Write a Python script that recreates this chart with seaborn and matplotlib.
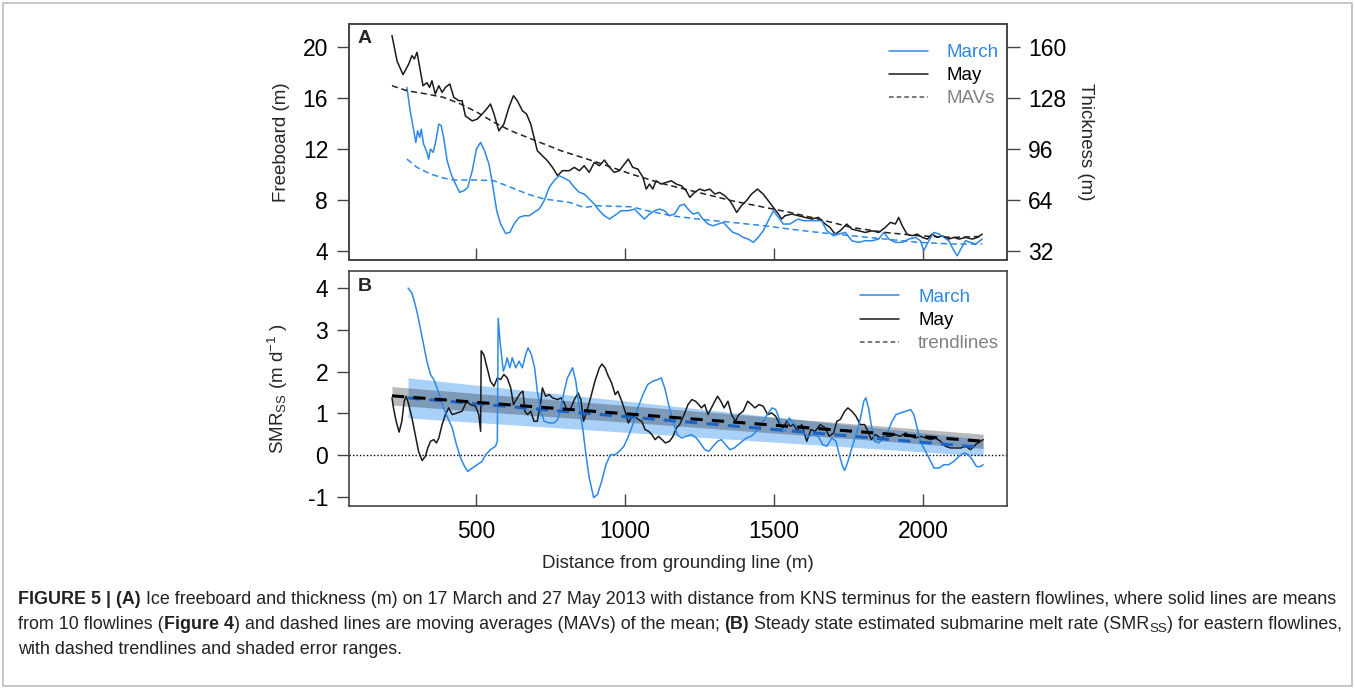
import numpy as np
import pandas as pd
import matplotlib
matplotlib.use('Agg')
import matplotlib.pyplot as plt
import seaborn as sns
from matplotlib.lines import Line2D
from matplotlib.patches import Rectangle
from matplotlib import font_manager

# ------------------------------------------------------------
# Data (distance from grounding line, m)
# ------------------------------------------------------------
# Panel A: freeboard (m), May
may_a_x = [219, 236, 256, 275, 286, 294, 303, 314, 323, 336, 345, 353, 364, 376, 387, 398, 413, 426, 443, 454,
           465, 488, 505, 521, 536, 549, 561, 577, 594, 611, 626, 639, 656, 670, 684, 695, 706, 723, 740, 757,
           774, 790,
           813, 830, 847, 863, 880, 897, 914, 931, 948, 964, 981, 998, 1011, 1026, 1043, 1060, 1071, 1082, 1093, 1104,
           1121, 1138, 1155, 1172, 1189, 1205, 1217, 1233, 1250, 1267, 1284, 1301, 1317, 1334, 1351, 1362, 1374, 1390,
           1407, 1424, 1444, 1463, 1480, 1497, 1514, 1525,
           1536, 1559, 1581, 1603, 1626, 1648, 1671, 1687, 1704, 1721, 1743, 1760, 1783, 1805, 1828, 1850, 1872, 1889,
           1906, 1917, 1929, 1945, 1962, 1979, 1996, 2013, 2029, 2046, 2063, 2085, 2102, 2119, 2141, 2164, 2181, 2197]
may_a_y = [20.9, 18.9, 17.83, 18.66, 19.32, 19.06, 19.58, 18.14, 16.96, 17.2, 16.83, 17.35, 16.31, 16.96, 16.44, 16.83,
           17.1, 16.05, 15.79, 15.79, 14.6, 14.2, 14.35, 14.74, 15.13, 15.53, 14.74, 13.43, 13.96, 15.27, 16.18, 15.79,
           15.0, 14.74, 13.96, 12.91, 11.87, 11.47, 11.08, 10.56, 9.91, 10.3,
           10.3, 10.56, 10.3, 10.69, 10.17, 10.95, 10.69, 11.13, 10.56, 10.17, 10.3, 10.82, 11.21, 10.56, 10.43, 9.78,
           8.86, 9.25, 8.86, 9.51, 9.25, 9.38, 9.51, 9.25, 9.12, 8.73, 8.21, 8.6, 8.86, 8.73, 8.86, 8.47, 8.6, 8.34,
           7.95, 7.55, 7.03, 7.55, 7.95, 8.47, 8.86, 8.47, 7.95, 7.42, 6.9, 6.51,
           6.77, 6.9, 6.77, 6.64, 6.51, 6.64, 6.12, 5.85, 5.33, 5.59, 6.12, 5.72, 5.59, 5.46, 5.59, 5.46, 5.85, 6.25,
           6.12, 6.64, 5.98, 5.33, 5.2, 5.33, 5.07, 4.94, 5.33, 5.07, 5.2, 4.94, 5.07, 4.94, 5.07, 4.94, 5.07, 5.33]

# Panel A: freeboard (m), March
mar_a_x = [269, 280, 292, 299, 305, 312, 317, 325, 336, 342, 348, 357, 364, 376, 384, 392, 404, 417, 432, 446,
           460, 473, 488, 502, 516, 529, 544, 555, 570, 583, 600, 614, 628, 645, 662, 678, 695, 712, 729, 746,
           762, 779, 796,
           813, 830, 847, 863, 880, 897, 914, 931, 948, 964, 987, 1009, 1032, 1048, 1065, 1082, 1099, 1116, 1132, 1149,
           1166, 1183, 1198, 1211, 1228, 1245, 1261, 1278, 1295, 1312, 1329, 1345, 1362, 1379, 1396, 1413, 1430, 1446,
           1463, 1480, 1497, 1514, 1530,
           1553, 1570, 1581, 1598, 1620, 1642, 1659, 1676, 1699, 1715, 1738, 1760, 1783, 1805, 1828, 1850, 1867, 1884,
           1906, 1929, 1951, 1973, 1990, 2001, 2018, 2035, 2052, 2069, 2085, 2102, 2113, 2125, 2141, 2158, 2175, 2197]
mar_a_y = [16.83, 15.0, 13.43, 12.52, 13.43, 12.91, 13.56, 12.39, 11.74, 11.21, 12.0, 11.74, 12.39, 13.96, 13.83, 12.91,
           11.08, 10.04, 9.25, 8.6, 8.73, 8.99, 10.3, 12.0, 12.52, 11.87, 10.82, 9.38, 7.16, 6.12, 5.38, 5.46, 6.12,
           6.64, 6.77, 6.77, 7.03, 7.29, 7.95, 8.99, 9.51, 9.91, 9.72,
           9.51, 8.99, 8.6, 8.47, 8.08, 7.68, 7.16, 6.77, 6.51, 6.77, 7.16, 7.16, 7.29, 6.9, 6.51, 6.9, 7.16, 7.29,
           7.16, 6.77, 6.9, 7.55, 7.68, 7.29, 6.9, 7.03, 6.51, 6.12, 5.98, 6.12, 6.25, 5.85, 5.46, 5.33, 5.07, 4.94,
           4.68, 5.07, 5.59, 6.38, 7.16, 6.64, 6.12,
           6.12, 6.38, 6.51, 6.38, 6.38, 6.38, 6.38, 5.59, 5.2, 5.33, 5.46, 4.81, 4.68, 4.81, 4.81, 4.94, 5.46, 4.94,
           4.68, 4.68, 4.94, 5.07, 4.81, 4.03, 4.81, 5.46, 5.33, 5.07, 4.81, 4.03, 3.63, 4.16, 4.81, 4.68, 4.55, 4.94]

# Panel A: moving averages
mav_may_x = [219, 269, 336, 392, 449, 505, 561, 617, 673, 729, 785, 908, 1020, 1132, 1245, 1357, 1469, 1553,
             1648, 1760, 1872, 1984, 2097, 2197]
mav_may_y = [16.96, 16.57, 16.31, 16.05, 15.53, 14.87, 14.09, 13.43, 12.91, 12.39, 11.87, 10.95, 10.04, 9.25,
             8.6, 7.95, 7.42, 7.03, 6.51, 5.85, 5.46, 5.2, 5.07, 5.15]
mav_mar_x = [269, 303, 348, 392, 426, 505, 561, 617, 673, 729, 813, 863, 908, 1020, 1076, 1155, 1245, 1357,
             1469, 1553, 1648, 1760, 1872, 1984, 2097, 2197]
mav_mar_y = [11.21, 10.56, 10.04, 9.72, 9.57, 9.57, 9.51, 9.0, 8.47, 8.08, 7.82, 7.42, 7.55, 7.47, 7.16, 6.77,
             6.51, 6.25, 5.98, 5.72, 5.46, 5.2, 4.94, 4.68, 4.55, 4.55]

# Panel B: SMR_SS (m/d), May
may_b_x = [219, 224, 233, 243, 252, 260, 267, 275, 286, 297, 308, 320, 331, 339, 348, 359, 368, 376, 387, 398,
           409, 421, 437, 454, 469, 482, 499, 510, 516, 518, 527, 538, 549, 561, 572, 583, 594, 605, 617, 626,
           639, 650, 658, 664, 673, 684, 695, 706, 718, 723, 734, 746, 757, 774, 785,
           796, 807, 819, 830, 843, 852, 861, 872, 886, 899, 914, 923, 933, 944, 955, 967, 976, 989, 1000, 1011,
           1020, 1032, 1045, 1056, 1067, 1079, 1090, 1101, 1112, 1124, 1135, 1149, 1161, 1172, 1183, 1198, 1211, 1224,
           1236, 1247, 1256, 1267, 1278, 1295, 1310, 1321, 1332, 1345, 1357, 1370, 1381, 1396, 1411, 1424, 1435, 1449,
           1463, 1478, 1491, 1505, 1519, 1530,
           1542, 1553, 1564, 1579, 1592, 1609, 1623, 1637, 1654, 1671, 1684, 1699, 1710, 1721, 1736, 1747, 1760, 1774,
           1788, 1803, 1814, 1825, 1839, 1856, 1872, 1889, 1906, 1923, 1940, 1957, 1973, 1990, 2007, 2024, 2041, 2057,
           2074, 2091, 2108, 2125, 2141, 2158, 2175, 2192, 2200]
may_b_y = [1.37, 1.13, 0.81, 0.55, 0.81, 1.29, 1.41, 1.21, 0.89, 0.49, 0.09, -0.13, -0.03, 0.17, 0.33, 0.37, 0.29,
           0.41, 0.73, 0.97, 1.13, 0.97, 1.01, 1.05, 1.29, 1.21, 1.17, 0.97, 0.57, 2.5, 2.40, 2.09, 1.77, 1.65, 1.85,
           1.81, 1.93, 1.85, 1.61, 1.21, 1.37, 1.49, 1.53, 1.05, 0.97, 1.05, 0.81, 0.81, 1.29, 1.61, 1.41, 1.45, 1.37,
           1.33, 1.37,
           1.25, 1.05, 1.13, 1.33, 1.49, 1.33, 0.81, 1.05, 1.41, 1.77, 2.09, 2.18, 2.09, 1.89, 1.73, 1.45, 1.53, 1.29,
           1.05, 0.77, 0.89, 0.93, 0.85, 0.81, 0.61, 0.57, 0.49, 0.37, 0.45, 0.37, 0.29, 0.33, 0.45, 0.65, 0.73, 0.97,
           1.21, 1.33, 1.29, 1.21, 1.13, 1.21, 0.97, 1.21, 1.41, 1.29, 1.13, 1.29, 0.97, 0.81, 0.97, 1.05, 1.29, 1.21,
           1.13, 1.21, 1.17, 0.97, 1.01, 0.93, 0.73, 0.65,
           0.81, 0.69, 0.73, 0.57, 0.73, 0.33, 0.61, 0.57, 0.73, 0.65, 0.45, 0.53, 0.81, 0.85, 1.05, 1.13, 1.05, 0.93,
           0.73, 0.73, 0.57, 0.37, 0.49, 0.41, 0.45, 0.45, 0.49, 0.45, 0.53, 0.45, 0.41, 0.45, 0.41, 0.37, 0.41, 0.33,
           0.21, 0.17, 0.17, 0.17, 0.21, 0.13, 0.25, 0.33, 0.37]

# Panel B: SMR_SS (m/d), March
mar_b_x = [273, 286, 297, 305, 314, 325, 336, 348, 359, 370, 381, 392, 406, 421, 435, 449, 462, 473, 488, 505,
           521, 533, 549, 566, 572, 575, 581, 592, 600, 605, 614, 622, 634, 645, 656, 667, 675, 686, 697, 706,
           718, 729, 746, 762, 774, 785,
           796, 807, 824, 835, 847, 858, 869, 880, 895, 908, 922, 936, 951, 967, 981, 996, 1009, 1026, 1043, 1060,
           1076, 1093, 1110, 1121, 1133, 1146, 1161, 1175, 1189, 1205, 1222, 1239, 1256, 1267, 1281, 1295, 1310, 1323,
           1337, 1351, 1366, 1379, 1393, 1407, 1422, 1435, 1449, 1463, 1480, 1493, 1505, 1516, 1527,
           1538, 1550, 1564, 1581, 1598, 1615, 1631, 1648, 1662, 1676, 1693, 1707, 1718, 1729, 1736, 1747, 1760, 1774,
           1788, 1800, 1807, 1816, 1825, 1836, 1850, 1867, 1881, 1895, 1908, 1923, 1940, 1957, 1968, 1979, 1990, 2001,
           2013, 2024, 2035, 2052, 2069, 2085, 2102, 2119, 2136, 2150, 2164, 2177, 2190, 2200]
mar_b_y = [4.0, 3.88, 3.6, 3.36, 3.04, 2.64, 2.25, 1.93, 1.81, 1.61, 1.37, 1.13, 0.89, 0.65, 0.25, -0.07, -0.27,
           -0.39, -0.31, -0.23, -0.15, 0.01, 0.13, 0.21, 0.33, 3.28, 2.72, 2.01, 2.17, 2.33, 2.09, 2.33, 2.09, 2.25,
           2.09, 2.41, 2.57, 2.41, 2.09, 1.53, 1.05, 0.81, 0.77, 0.77, 0.85, 1.13,
           1.53, 1.85, 2.09, 1.77, 1.13, 0.65, 0.01, -0.55, -1.02, -0.94, -0.62, -0.23, 0.01, 0.01, 0.09, 0.21, 0.41,
           0.73, 1.13, 1.45, 1.69, 1.77, 1.81, 1.85, 1.61, 1.21, 0.81, 0.49, 0.41, 0.45, 0.49, 0.41, 0.25, 0.13, 0.09,
           0.21, 0.33, 0.37, 0.25, 0.13, 0.17, 0.25, 0.33, 0.41, 0.45, 0.53, 0.65, 0.81, 1.01, 1.13, 1.09, 0.89, 0.57,
           0.57, 0.89, 0.77, 0.65, 0.53, 0.45, 0.49, 0.45, 0.25, 0.21, 0.41, 0.33, 0.01, -0.27, -0.37, -0.15, 0.17,
           0.49, 0.85, 1.29, 1.37, 1.13, 0.73, 0.33, 0.29, 0.41, 0.57, 0.81, 0.97, 1.01, 1.05, 1.09, 0.97, 0.65, 0.33,
           0.17, 0.01, -0.15, -0.31, -0.31, -0.23, -0.23, -0.15, -0.03, 0.05, 0.01, -0.11, -0.27, -0.28, -0.23]

# Panel B: linear trendlines and their error ranges (end points)
trend_may_x = [219, 2200]
trend_may_y = [1.42, 0.33]
trend_may_err = [0.22, 0.17]
trend_mar_x = [273, 2200]
trend_mar_y = [1.37, 0.18]
trend_mar_err = [0.48, 0.20]

fb_ticks = [4, 8, 12, 16, 20]
thk_ticks = [32, 64, 96, 128, 160]
smr_ticks = [-1, 0, 1, 2, 3, 4]
x_ticks = [500, 1000, 1500, 2000]

# ------------------------------------------------------------
# Style
# ------------------------------------------------------------
sns.set_style('ticks')
plt.rcParams['font.family'] = ['Liberation Sans', 'DejaVu Sans']
plt.rcParams['axes.unicode_minus'] = False
plt.rcParams['mathtext.fontset'] = 'custom'
plt.rcParams['mathtext.rm'] = 'Liberation Sans'
plt.rcParams['mathtext.it'] = 'Liberation Sans:italic'
plt.rcParams['mathtext.bf'] = 'Liberation Sans:bold'

names = {f.name for f in font_manager.fontManager.ttflist}
cap_font = 'Liberation Sans Narrow' if 'Liberation Sans Narrow' in names else 'Liberation Sans'

MAR = '#2c88e8'
MAY = '#1a1a1a'
MAR_TREND = '#1c64c4'
SPINE = '#444444'

W, H = 1355, 689
fig = plt.figure(figsize=(W / 100, H / 100), dpi=100)
axA = fig.add_axes([349 / W, 1 - 260 / H, 658 / W, 236 / H])
axB = fig.add_axes([349 / W, 1 - 506 / H, 658 / W, 235 / H])

# ---- panel A
sns.lineplot(x=may_a_x, y=may_a_y, ax=axA, color=MAY, lw=1.1, estimator=None, sort=False)
sns.lineplot(x=mar_a_x, y=mar_a_y, ax=axA, color=MAR, lw=1.1, estimator=None, sort=False)
sns.lineplot(x=mav_may_x, y=mav_may_y, ax=axA, color='#222222', lw=1.1, ls=(0, (4, 2.5)),
             estimator=None, sort=False)
sns.lineplot(x=mav_mar_x, y=mav_mar_y, ax=axA, color=MAR, lw=1.1, ls=(0, (4, 2.5)),
             estimator=None, sort=False)

axA.set_xlim(75, 2280)
axA.set_ylim(3.3, 21.8)
axA.set_xticks(x_ticks)
axA.set_yticks(fb_ticks)
axA.set_ylabel('Freeboard (m)', fontsize=13.5)
axA.yaxis.set_label_coords(-0.09, 0.5)

axA2 = axA.twinx()
lo, hi = axA.get_ylim()
axA2.set_ylim(lo * 8, hi * 8)
axA2.set_yticks(thk_ticks)
axA2.set_ylabel('Thickness (m)', fontsize=13.5, rotation=270, labelpad=20)

axA.text(0.013, 0.975, 'A', transform=axA.transAxes, fontsize=14, fontweight='bold', va='top', ha='left')

legA = [Line2D([], [], color=MAR, lw=1.1),
        Line2D([], [], color=MAY, lw=1.1),
        Line2D([], [], color='#555555', lw=1.1, ls=(0, (3, 2)))]
axA.legend(legA, ['March', 'May', 'MAVs'], loc='upper right', bbox_to_anchor=(0.988, 0.915),
           frameon=False, fontsize=13.5, handlelength=2.1, handletextpad=1.0, labelspacing=0.32,
           borderaxespad=0, borderpad=0, labelcolor=[MAR, 'black', '#808080'])

# ---- panel B
axB.fill_between(trend_mar_x, np.array(trend_mar_y) - np.array(trend_mar_err),
                 np.array(trend_mar_y) + np.array(trend_mar_err), color='#5aa6f0', alpha=0.52, lw=0)
axB.fill_between(trend_may_x, np.array(trend_may_y) - np.array(trend_may_err),
                 np.array(trend_may_y) + np.array(trend_may_err), color='#2a3240', alpha=0.34, lw=0)
axB.axhline(0, color='black', lw=1, ls=(0, (1, 1.5)))
sns.lineplot(x=may_b_x, y=may_b_y, ax=axB, color=MAY, lw=1.1, estimator=None, sort=False)
sns.lineplot(x=mar_b_x, y=mar_b_y, ax=axB, color=MAR, lw=1.1, estimator=None, sort=False)
sns.lineplot(x=trend_mar_x, y=trend_mar_y, ax=axB, color=MAR_TREND, lw=2.2, ls=(0, (4, 3)),
             estimator=None, sort=False)
sns.lineplot(x=trend_may_x, y=trend_may_y, ax=axB, color='black', lw=2.2, ls=(0, (4, 3)),
             estimator=None, sort=False)

axB.set_xlim(75, 2280)
axB.set_ylim(-1.22, 4.41)
axB.set_xticks(x_ticks)
axB.set_yticks(smr_ticks)
axB.set_ylabel('SMR$_\\mathregular{SS}$ (m d$^{-1}$ )', fontsize=13.5)
axB.yaxis.set_label_coords(-0.09, 0.5)
axB.set_xlabel('Distance from grounding line (m)', fontsize=13.5, labelpad=9)

axB.text(0.013, 0.972, 'B', transform=axB.transAxes, fontsize=14, fontweight='bold', va='top', ha='left')

legB = [Line2D([], [], color=MAR, lw=1.1),
        Line2D([], [], color=MAY, lw=1.1),
        Line2D([], [], color='#555555', lw=1.1, ls=(0, (3, 2)))]
axB.legend(legB, ['March', 'May', 'trendlines'], loc='upper right', bbox_to_anchor=(0.988, 0.924),
           frameon=False, fontsize=13.5, handlelength=2.1, handletextpad=1.0, labelspacing=0.32,
           borderaxespad=0, borderpad=0, labelcolor=[MAR, 'black', '#808080'])

for ax in (axA, axA2, axB):
    ax.tick_params(axis='y', direction='out', length=9, width=1, colors=SPINE, labelcolor='black',
                   labelsize=16.5, pad=6)
    ax.tick_params(axis='x', direction='in', length=9, width=1, colors=SPINE, labelcolor='black',
                   labelsize=16.5, pad=10)
    for s in ax.spines.values():
        s.set_visible(True)
        s.set_color(SPINE)
        s.set_linewidth(1.2)
axA.set_xlabel('')
axA2.set_xlabel('')
axA.tick_params(axis='x', labelbottom=False)

# ---- outer frame
fig.patches.append(Rectangle((3 / W, 3 / H), 1349 / W, 683 / H, transform=fig.transFigure,
                             fill=False, ec='#bcbcbc', lw=1.2))

# ---- caption
cap_lines = [
    [('FIGURE 5 | (A)', 'bold', False),
     (' Ice freeboard and thickness (m) on 17 March and 27 May 2013 with distance from KNS terminus '
      'for the eastern flowlines, where solid lines are means', 'normal', False)],
    [('from 10 flowlines (', 'normal', False), ('Figure 4', 'bold', False),
     (') and dashed lines are moving averages (MAVs) of the mean; ', 'normal', False),
     ('(B)', 'bold', False), (' Steady state estimated submarine melt rate (SMR', 'normal', False),
     ('SS', 'normal', True), (') for eastern flowlines,', 'normal', False)],
    [('with dashed trendlines and shaded error ranges.', 'normal', False)],
]
cap_y = [604, 629, 654]


def draw_line(runs, x0, y0, size):
    r = fig.canvas.get_renderer()
    x = x0
    made = []
    for txt, wt, sub in runs:
        fs = size * 0.75 if sub else size
        yy = y0 + (3 if sub else 0)
        t = fig.text(x / W, 1 - yy / H, txt, fontsize=fs, fontweight=wt, family=cap_font,
                     color='#222222', va='baseline', ha='left')
        made.append(t)
        x += t.get_window_extent(r).width
    return made, x - x0


base = 13
widest = 0
for runs in cap_lines:
    tmp, width = draw_line(runs, 18, cap_y[0], base)
    for t in tmp:
        t.remove()
    widest = max(widest, width)
cap_size = base * 1322 / widest
for runs, yy in zip(cap_lines, cap_y):
    draw_line(runs, 18, yy, cap_size)

fig.savefig('out.png', dpi=100)
